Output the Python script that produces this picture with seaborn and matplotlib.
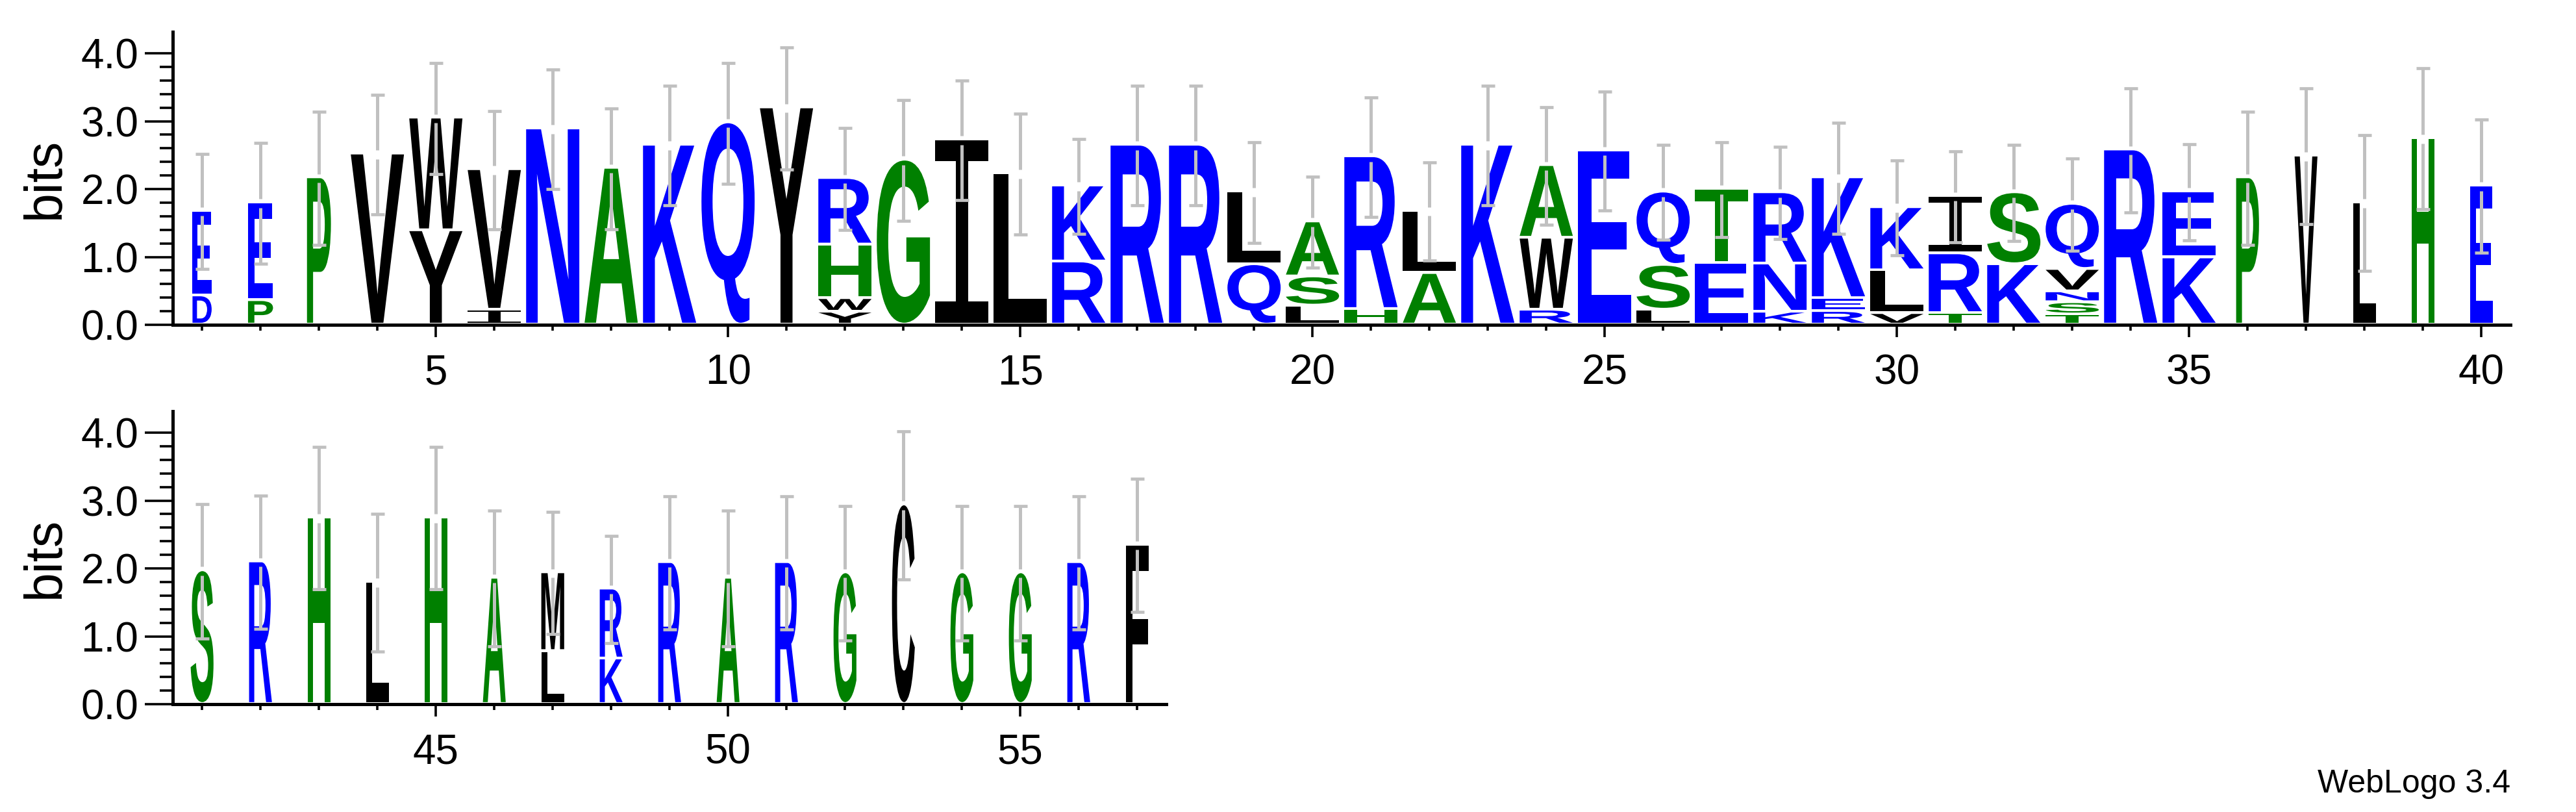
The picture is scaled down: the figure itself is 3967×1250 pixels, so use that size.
import matplotlib
matplotlib.use("Agg")
import matplotlib.pyplot as plt
import seaborn as sns
from matplotlib.font_manager import FontProperties
from matplotlib.patches import PathPatch
from matplotlib.textpath import TextPath
from matplotlib.transforms import Affine2D
from matplotlib.ticker import FixedLocator, FormatStrFormatter

positions = list(range(1, 58))

# letters of each stack, bottom -> top
stack_letters = [
    "DE", "PE", "P", "V", "YW", "IV", "N", "A", "K", "Q",
    "Y", "YWHR", "G", "I", "L", "RK", "R", "R", "QL", "LSA",
    "HR", "AL", "K", "RWA", "E", "LSQ", "ET", "KNR", "REK", "VLK",
    "TRI", "KS", "TSNVQ", "R", "KE", "P", "V", "L", "H", "E",
    "S", "R", "H", "L", "H", "A", "LM", "KR", "R", "A",
    "R", "G", "C", "G", "G", "R", "F",
]

# height (bits) of every letter box, bottom -> top
stack_heights = [
    [0.43, 1.21], [0.36, 1.40], [2.13], [2.48], [1.39, 1.62],
    [0.22, 2.03], [2.85], [2.27], [2.61], [2.94],
    [3.16], [0.19, 0.20, 0.79, 0.94], [2.39], [2.69], [2.19],
    [0.93, 1.08], [2.61], [2.61], [0.89, 1.03], [0.28, 0.43, 0.77],
    [0.23, 2.21], [0.76, 0.88], [2.61], [0.22, 1.06, 1.03], [2.53],
    [0.22, 0.66, 1.04], [0.91, 1.05], [0.19, 0.71, 1.01], [0.20, 0.19, 1.74], [0.17, 0.63, 0.89],
    [0.17, 0.88, 0.81], [0.89, 1.02], [0.15, 0.18, 0.16, 0.33, 0.92], [2.54], [0.99, 0.93],
    [2.13], [2.45], [1.76], [2.71], [2.01],
    [1.93], [2.06], [2.71], [1.76], [2.71],
    [1.82], [0.78, 1.12], [0.67, 0.99], [2.05], [1.82],
    [2.05], [1.90], [2.90], [1.90], [1.90],
    [2.05], [2.31],
]

# error bar half-height (bits) around each stack top
error_bars = [
    0.85, 0.89, 0.98, 0.88, 0.82, 0.87, 0.88, 0.89, 0.88, 0.89,
    0.90, 0.75, 0.89, 0.88, 0.89, 0.70, 0.88, 0.88, 0.74, 0.67,
    0.88, 0.72, 0.88, 0.87, 0.88, 0.70, 0.70, 0.68, 0.82, 0.70,
    0.67, 0.71, 0.68, 0.91, 0.71, 0.98, 1.00, 1.00, 1.04, 0.98,
    0.99, 0.98, 1.05, 1.01, 1.05, 1.00, 0.90, 0.79, 0.98, 1.00,
    0.98, 0.99, 1.09, 0.99, 0.99, 0.98, 0.98,
]

# visible stack width (fraction of a full column; gapped columns are narrow)
stack_widths = [0.36, 0.47, 0.45] + [1.0] * 32 + [0.43] * 22

rows = [(1, 40), (41, 57)]
y_ticks = [0, 1, 2, 3, 4]
y_minor = [i / 5 for i in range(1, 20)]

# hydrophobicity colour scheme
colors = {}
colors.update({c: "#0000ff" for c in "RKDENQ"})
colors.update({c: "#008000" for c in "SGHTAP"})
colors.update({c: "#000000" for c in "YVMCLFIW"})

# ── Style ─────────────────────────────────────────────────────────────────────
sns.set_theme(style="ticks")
plt.rcParams["font.family"] = ["Liberation Sans", "DejaVu Sans"]

letter_font = FontProperties(family="Liberation Sans", weight="bold")
serif_i_font = FontProperties(family="Liberation Mono", weight="normal")
FULL_W = 0.91
BASE = 0.03
GAP = 0.04
ERR_GAP = 0.065
ERR_COLOR = "#c0c0c0"

_glyphs = {}


def glyph(ch):
    if ch not in _glyphs:
        fp = serif_i_font if ch == "I" else letter_font
        path = TextPath((0, 0), ch, size=1, prop=fp)
        _glyphs[ch] = (path, path.get_extents())
    return _glyphs[ch]


def draw_letter(ax, ch, x, y0, w, h):
    path, ext = glyph(ch)
    t = (Affine2D().translate(-ext.x0, -ext.y0)
         .scale(w / ext.width, h / ext.height)
         .translate(x - w / 2, y0))
    ax.add_patch(PathPatch(t.transform_path(path), facecolor=colors[ch],
                           edgecolor="none", lw=0, zorder=2))


fig = plt.figure(figsize=(39.67, 12.5), dpi=100)
axes_boxes = [[0.0671, 0.600, 0.9075, 0.3611],
              [0.0671, 0.1328, 0.3857, 0.3611]]
label_x = [-0.0544, -0.1281]

for (start, end), box, lx in zip(rows, axes_boxes, label_x):
    ax = fig.add_axes(box)
    tops_x, tops_y, errs = [], [], []
    for pos in range(start, end + 1):
        i = pos - 1
        w = FULL_W * stack_widths[i]
        y = BASE
        n = len(stack_letters[i])
        for k, (ch, h) in enumerate(zip(stack_letters[i], stack_heights[i])):
            ink = h if k == n - 1 else h - GAP
            draw_letter(ax, ch, pos, y, w, ink)
            y += h
        tops_x.append(pos)
        tops_y.append(y)
        errs.append(error_bars[i])

    lo = [t - e for t, e in zip(tops_y, errs)]
    hi = [t + e for t, e in zip(tops_y, errs)]
    ax.vlines(tops_x, lo, [t - ERR_GAP for t in tops_y], color=ERR_COLOR, lw=3.6, zorder=3)
    ax.vlines(tops_x, [t + ERR_GAP for t in tops_y], hi, color=ERR_COLOR, lw=3.6, zorder=3)
    cap_l = [x - 0.115 for x in tops_x]
    cap_r = [x + 0.115 for x in tops_x]
    ax.hlines(lo, cap_l, cap_r, color=ERR_COLOR, lw=3.4, zorder=3)
    ax.hlines(hi, cap_l, cap_r, color=ERR_COLOR, lw=3.4, zorder=3)

    ax.set_xlim(start - 0.5, end + 0.5)
    ax.set_ylim(0, 4.32)
    ax.xaxis.set_major_locator(FixedLocator([p for p in range(start, end + 1) if p % 5 == 0]))
    ax.xaxis.set_minor_locator(FixedLocator(list(range(start, end + 1))))
    ax.yaxis.set_major_locator(FixedLocator(y_ticks))
    ax.yaxis.set_minor_locator(FixedLocator(y_minor))
    ax.yaxis.set_major_formatter(FormatStrFormatter("%.1f"))

    ax.tick_params(axis="y", which="major", direction="out", length=31, width=2.6,
                   pad=7, labelsize=46, color="black", labelcolor="black")
    ax.tick_params(axis="y", which="minor", direction="out", length=14.5, width=2.6,
                   color="black")
    ax.tick_params(axis="x", which="major", direction="out", length=13.7, width=2.6,
                   pad=18, labelsize=46, color="black", labelcolor="black")
    ax.tick_params(axis="x", which="minor", direction="out", length=6.5, width=2.6,
                   color="black")

    sns.despine(ax=ax)
    for side in ("left", "bottom"):
        ax.spines[side].set_linewidth(3.6)
        ax.spines[side].set_color("black")
    ax.set_facecolor("white")

    ax.set_ylabel("bits", fontsize=58, color="black")
    ax.yaxis.label.set_va("center")
    ax.yaxis.set_label_coords(lx, 0.5)

fig.text(0.9745, 0.034, "WebLogo 3.4", ha="right", va="center", fontsize=36, color="black")

fig.savefig("out.png", dpi=100, facecolor="white")
